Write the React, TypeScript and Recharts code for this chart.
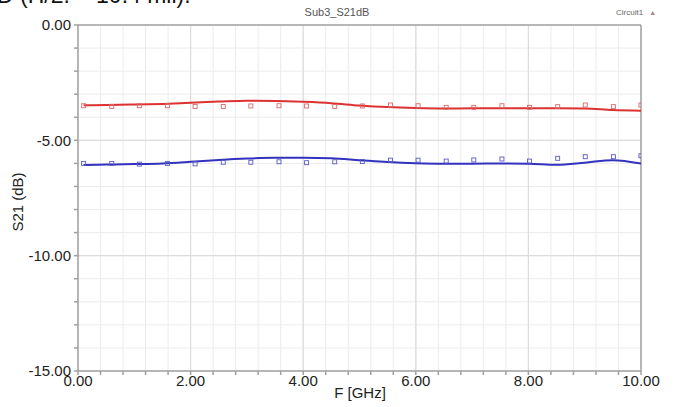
import React from 'react';
import { ComposedChart, Line, Scatter, XAxis, YAxis, CartesianGrid, ReferenceLine } from 'recharts';

const lineFreq = [0.1, 0.5, 1, 1.5, 2, 2.5, 3, 3.5, 4, 4.5, 5, 5.5, 6, 6.5, 7, 7.5, 8, 8.5, 9, 9.5, 10];
const redLine = [-3.48, -3.47, -3.45, -3.42, -3.37, -3.32, -3.28, -3.29, -3.33, -3.39, -3.49, -3.56, -3.6, -3.62, -3.61, -3.61, -3.61, -3.61, -3.62, -3.69, -3.72];
const blueLine = [-6.07, -6.05, -6.03, -6.0, -5.93, -5.85, -5.79, -5.76, -5.76, -5.78, -5.86, -5.94, -5.99, -6.01, -6.01, -6.0, -6.01, -6.06, -5.97, -5.86, -6.01];

const markerFreq = [0.1, 0.6, 1.09, 1.59, 2.08, 2.58, 3.07, 3.57, 4.06, 4.56, 5.05, 5.55, 6.04, 6.54, 7.03, 7.53, 8.02, 8.52, 9.01, 9.51, 10];
const redMeas = [-3.5, -3.53, -3.5, -3.5, -3.53, -3.53, -3.51, -3.5, -3.51, -3.53, -3.51, -3.47, -3.5, -3.57, -3.57, -3.5, -3.57, -3.54, -3.47, -3.54, -3.47];
const blueMeas = [-6.0, -6.0, -6.03, -6.0, -6.02, -5.95, -5.95, -5.93, -5.97, -5.93, -5.92, -5.86, -5.86, -5.9, -5.85, -5.81, -5.9, -5.78, -5.71, -5.71, -5.67];

const xTicks = [0, 0.4, 0.8, 1.2, 1.6, 2, 2.4, 2.8, 3.2, 3.6, 4, 4.4, 4.8, 5.2, 5.6, 6, 6.4, 6.8, 7.2, 7.6, 8, 8.4, 8.8, 9.2, 9.6, 10];
const xMajor = [0, 2, 4, 6, 8, 10];
const yTicks = [0, -1, -2, -3, -4, -5, -6, -7, -8, -9, -10, -11, -12, -13, -14, -15];
const yMajor = [0, -5, -10, -15];

const title = 'Sub3_S21dB';
const legendName = 'Circuit1';
const xLabel = 'F [GHz]';
const yLabel = 'S21 (dB)';
const clippedText = 'D (H/2. = 10.4 mil).';

const RED = '#dc3232';
const BLUE = '#3232be';

const toPts = (xs: number[], ys: number[]) => xs.map((x, i) => ({ x, y: ys[i] }));

const squareShape = (color: string) => (props: any) => {
  const { cx, cy } = props;
  if (cx == null || cy == null) return <g />;
  return <rect x={cx - 2} y={cy - 2} width={4} height={4} fill="none" stroke={color} strokeWidth={0.9} />;
};

const FONT = '"Liberation Sans", Arial, sans-serif';

export default function App() {
  const redL = toPts(lineFreq, redLine);
  const blueL = toPts(lineFreq, blueLine);
  const redM = toPts(markerFreq, redMeas);
  const blueM = toPts(markerFreq, blueMeas);
  const axisColor = '#a0a0a0';
  return (
    <div style={{ position: 'absolute', left: 0, top: 0, width: 673, height: 407, background: '#fff', overflow: 'hidden', fontFamily: FONT }}>
      <div style={{ position: 'absolute', left: -3, top: -17, fontSize: 23, color: '#111', whiteSpace: 'nowrap', lineHeight: '24px' }}>{clippedText}</div>
      <ComposedChart width={673} height={407} margin={{ top: 25, right: 32, bottom: 0, left: 0 }} style={{ position: 'absolute', left: 0, top: 0 }}>
        <CartesianGrid stroke="#ececec" strokeWidth={1} />
        <XAxis
          type="number"
          dataKey="x"
          domain={[0, 10]}
          ticks={xTicks}
          interval={0}
          allowDataOverflow
          height={36}
          tickSize={4}
          tickMargin={0}
          stroke={axisColor}
          strokeWidth={1.5}
          tick={{ fill: '#222', fontSize: 15, fontFamily: FONT }}
          tickFormatter={(v: number) => (xMajor.includes(v) ? v.toFixed(2) : '')}
        />
        <YAxis
          type="number"
          dataKey="y"
          domain={[-15, 0]}
          ticks={yTicks}
          interval={0}
          allowDataOverflow
          width={78}
          tickSize={4}
          tickMargin={3}
          stroke={axisColor}
          strokeWidth={1.5}
          tick={{ fill: '#222', fontSize: 15, fontFamily: FONT }}
          tickFormatter={(v: number) => (yMajor.includes(v) ? v.toFixed(2) : '')}
        />
        {[2, 4, 6, 8].map((v) => (
          <ReferenceLine key={'vx' + v} x={v} stroke="#dcdcdc" strokeWidth={1.2} />
        ))}
        {[-5, -10].map((v) => (
          <ReferenceLine key={'hy' + v} y={v} stroke="#dcdcdc" strokeWidth={1.2} />
        ))}
        <ReferenceLine y={0} stroke={axisColor} strokeWidth={1.5} />
        <ReferenceLine x={10} stroke={axisColor} strokeWidth={1.5} />
        <Scatter data={redM} dataKey="y" shape={squareShape('#d86a6a')} isAnimationActive={false} />
        <Scatter data={blueM} dataKey="y" shape={squareShape('#5a5ac8')} isAnimationActive={false} />
        <Line data={redL} dataKey="y" type="monotone" stroke={RED} strokeWidth={2} dot={false} activeDot={false} isAnimationActive={false} />
        <Line data={blueL} dataKey="y" type="monotone" stroke={BLUE} strokeWidth={2} dot={false} activeDot={false} isAnimationActive={false} />
      </ComposedChart>
      <div style={{ position: 'absolute', left: 237, width: 200, top: 6, textAlign: 'center', fontSize: 11, color: '#555', lineHeight: '13px' }}>{title}</div>
      <div style={{ position: 'absolute', left: 616, top: 8, fontSize: 8, color: '#666', lineHeight: '10px', whiteSpace: 'nowrap' }}>
        {legendName}<span style={{ marginLeft: 6, color: '#b08080', fontSize: 7 }}>▲</span>
      </div>
      <div style={{ position: 'absolute', left: 260, width: 200, top: 384, textAlign: 'center', fontSize: 15, color: '#222', lineHeight: '18px' }}>{xLabel}</div>
      <div style={{ position: 'absolute', left: 18 - 50, width: 100, top: 202 - 9, textAlign: 'center', fontSize: 15, color: '#222', lineHeight: '18px', transform: 'rotate(-90deg)' }}>{yLabel}</div>
    </div>
  );
}
